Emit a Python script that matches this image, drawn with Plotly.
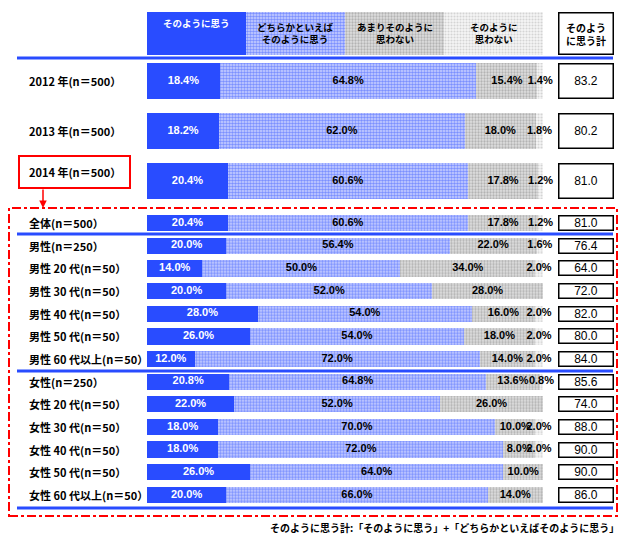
import plotly.graph_objects as go

# ---------------- data ----------------
series_names = ["そのように思う", "どちらかといえば<br>そのように思う", "あまりそのように<br>思わない", "そのように<br>思わない"]
total_title = "そのよう<br>に思う計"

top_labels = ["2012 年(n＝500）", "2013 年(n＝500）", "2014 年(n＝500）"]
top_s1 = [18.4, 18.2, 20.4]
top_s2 = [64.8, 62.0, 60.6]
top_s3 = [15.4, 18.0, 17.8]
top_s4 = [1.4, 1.8, 1.2]
top_total = [83.2, 80.2, 81.0]

bot_labels = ["全体(n＝500）", "男性(n＝250）", "男性 20 代(n＝50）", "男性 30 代(n＝50）",
              "男性 40 代(n＝50）", "男性 50 代(n＝50）", "男性 60 代以上(n＝50）",
              "女性(n＝250）", "女性 20 代(n＝50）", "女性 30 代(n＝50）", "女性 40 代(n＝50）",
              "女性 50 代(n＝50）", "女性 60 代以上(n＝50）"]
bot_s1 = [20.4, 20.0, 14.0, 20.0, 28.0, 26.0, 12.0, 20.8, 22.0, 18.0, 18.0, 26.0, 20.0]
bot_s2 = [60.6, 56.4, 50.0, 52.0, 54.0, 54.0, 72.0, 64.8, 52.0, 70.0, 72.0, 64.0, 66.0]
bot_s3 = [17.8, 22.0, 34.0, 28.0, 16.0, 18.0, 14.0, 13.6, 26.0, 10.0, 8.0, 10.0, 14.0]
bot_s4 = [1.2, 1.6, 2.0, 0.0, 2.0, 2.0, 2.0, 0.8, 0.0, 2.0, 2.0, 0.0, 0.0]
bot_total = [81.0, 76.4, 64.0, 72.0, 82.0, 80.0, 84.0, 85.6, 74.0, 88.0, 90.0, 90.0, 86.0]

footnote = "そのように思う計:「そのように思う」+「どちらかといえばそのように思う」"

# ---------------- style ----------------
OFF = 8                      # page body margin
W, H = 634 - 2 * OFF, 543 - 2 * OFF
BLUE = "rgb(41,76,255)"
RED = "rgb(255,0,0)"
FONT = "Liberation Sans, Noto Sans CJK JP, sans-serif"
JFONT = "Noto Sans CJK JP, sans-serif"

def px(x):
    return (x - OFF) / W

def py(y):
    return 1 - (y - OFF) / H

markers = [
    dict(color=BLUE, line=dict(width=0)),
    dict(color="white", line=dict(width=0),
         pattern=dict(shape=".", fgcolor=BLUE, bgcolor="rgb(205,212,255)", size=3, solidity=0.55)),
    dict(color="rgb(210,210,210)", line=dict(width=0),
         pattern=dict(shape=".", fgcolor="rgb(135,135,135)", bgcolor="rgb(222,222,222)", size=3, solidity=0.45)),
    dict(color="white", line=dict(width=0),
         pattern=dict(shape=".", fgcolor="rgb(180,180,180)", bgcolor="rgb(245,245,245)", size=3, solidity=0.4)),
]
text_colors = ["white", "black", "black", "black"]

fig = go.Figure()

# header cells (legend)
n = len(series_names)
for i, name in enumerate(series_names):
    fig.add_trace(go.Bar(x=[100 / n], y=["h"], orientation="h", width=1,
                         marker=markers[i], xaxis="x", yaxis="y",
                         showlegend=False, hoverinfo="skip"))

def add_block(labels, segs, xa, ya):
    cum = [0.0] * len(labels)
    for i, vals in enumerate(segs):
        fig.add_trace(go.Bar(x=vals, y=labels, orientation="h", marker=markers[i],
                             xaxis=xa, yaxis=ya, showlegend=False, name=series_names[i]))
        xs, ys, ts = [], [], []
        for j, v in enumerate(vals):
            if v > 0:
                xs.append(cum[j] + v / 2)
                ys.append(labels[j])
                ts.append(f"{v:.1f}%")
            cum[j] += v
        fig.add_trace(go.Scatter(x=xs, y=ys, text=ts, mode="text", textposition="middle center",
                                 textfont=dict(family=FONT, size=11, color=text_colors[i], weight="bold"),
                                 xaxis=xa, yaxis=ya, showlegend=False, cliponaxis=False,
                                 hoverinfo="skip"))

add_block(top_labels, [top_s1, top_s2, top_s3, top_s4], "x2", "y2")
add_block(bot_labels, [bot_s1, bot_s2, bot_s3, bot_s4], "x3", "y3")

xdom = [px(147), px(543)]
ax_common = dict(showgrid=False, zeroline=False, showticklabels=False, showline=False, ticks="")
fig.update_layout(
    width=W, height=H, margin=dict(l=0, r=0, t=0, b=0),
    paper_bgcolor="white", plot_bgcolor="rgba(0,0,0,0)",
    barmode="stack", bargap=0.28, showlegend=False,
    xaxis=dict(domain=xdom, range=[0, 100], anchor="y", **ax_common),
    yaxis=dict(domain=[py(55), py(12)], range=[-0.5, 0.5], anchor="x", **ax_common),
    xaxis2=dict(domain=xdom, range=[0, 100], anchor="y2", **ax_common),
    yaxis2=dict(domain=[py(206), py(56)], range=[len(top_labels) - 0.5, -0.5], anchor="x2",
                type="category", **ax_common),
    xaxis3=dict(domain=xdom, range=[0, 100], anchor="y3", **ax_common),
    yaxis3=dict(domain=[py(506.3), py(211.7)], range=[len(bot_labels) - 0.5, -0.5], anchor="x3",
                type="category", **ax_common),
)

ann = []
# header texts
for i, name in enumerate(series_names):
    center = (i + 0.5) * 100 / n
    ann.append(dict(x=center, xref="x", y=py(23) if i == 0 else py(33.5), yref="paper",
                    xanchor="center", yanchor="middle",
                    text=name, showarrow=False,
                    font=dict(family=JFONT, size=9.5, color=text_colors[i], weight="bold")))
ann.append(dict(x=px(585.5), y=py(33.5), xref="paper", yref="paper", text=total_title,
                xanchor="center", yanchor="middle",
                showarrow=False, bordercolor="black", borderwidth=1.5, borderpad=1,
                width=51, height=38, bgcolor="white",
                font=dict(family=JFONT, size=10, color="black", weight="bold")))

# row labels and totals
for lab, tot in zip(top_labels, top_total):
    shift = 9 if lab == top_labels[-1] else 0
    ann.append(dict(x=px(27), xref="paper", y=lab, yref="y2", xanchor="left", yanchor="middle",
                    yshift=shift, text=lab, showarrow=False,
                    font=dict(family=JFONT, size=11, color="black", weight="bold")))
    ann.append(dict(x=px(585.5), xref="paper", y=lab, yref="y2", text=f"{tot:.1f}",
                    xanchor="center", yanchor="middle",
                    showarrow=False, bordercolor="black", borderwidth=1.5, borderpad=1,
                    width=51, height=31,
                    font=dict(family=FONT, size=12, color="black")))
for lab, tot in zip(bot_labels, bot_total):
    ann.append(dict(x=px(27), xref="paper", y=lab, yref="y3", xanchor="left", yanchor="middle",
                    text=lab, showarrow=False,
                    font=dict(family=JFONT, size=11, color="black", weight="bold")))
    ann.append(dict(x=px(585.5), xref="paper", y=lab, yref="y3", text=f"{tot:.1f}",
                    xanchor="center", yanchor="middle",
                    showarrow=False, bordercolor="black", borderwidth=1.5, borderpad=0,
                    width=53, height=13,
                    font=dict(family=FONT, size=12, color="black")))

# red arrow
ann.append(dict(x=px(43), y=py(208), xref="paper", yref="paper", ax=0, ay=-20,
                text="", showarrow=True, arrowhead=2, arrowsize=1, arrowwidth=1.5,
                arrowcolor=RED))
# footnote
ann.append(dict(x=px(621), y=py(527), xref="paper", yref="paper", xanchor="right", yanchor="middle",
                text=footnote, showarrow=False,
                font=dict(family=JFONT, size=10, color="black", weight="bold")))

shapes = []
for yy in [58, 234, 371, 508]:
    shapes.append(dict(type="line", xref="paper", yref="paper", x0=px(17), x1=px(613),
                       y0=py(yy), y1=py(yy), line=dict(color=BLUE, width=3)))
shapes.append(dict(type="rect", xref="paper", yref="paper", x0=px(19), x1=px(130),
                   y0=py(188), y1=py(156), line=dict(color=RED, width=2)))
shapes.append(dict(type="rect", xref="paper", yref="paper", x0=px(9), x1=px(617),
                   y0=py(516), y1=py(208), line=dict(color=RED, width=2, dash="dashdot")))

fig.update_layout(annotations=ann, shapes=shapes)
fig.write_html("out.html")
